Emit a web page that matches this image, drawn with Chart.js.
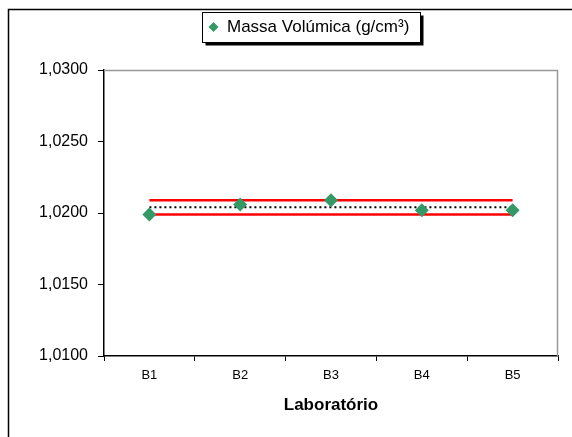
<!DOCTYPE html>
<html>
<head>
<meta charset="utf-8">
<script src="https://cdn.jsdelivr.net/npm/chart.js@4"></script>
<style>
  html, body { margin: 0; padding: 0; background: #fff; }
  #wrap { width: 572px; height: 437px; }
</style>
</head>
<body>
<div id="wrap"><canvas id="c" width="572" height="437"></canvas></div>
<script>
const categories = ["B1", "B2", "B3", "B4", "B5"];
const seriesLabel = "Massa Volúmica (g/cm³)";
const densityValues = [1.0199, 1.0206, 1.0209, 1.0202, 1.0202];
const upperLimit = [1.0209, 1.0209, 1.0209, 1.0209, 1.0209];
const meanValue = [1.0204, 1.0204, 1.0204, 1.0204, 1.0204];
const lowerLimit = [1.0199, 1.0199, 1.0199, 1.0199, 1.0199];
const yTicks = [1.0100, 1.0150, 1.0200, 1.0250, 1.0300];
const xTitle = "Laboratório";

const FONT = '"Liberation Sans", Arial, Helvetica, sans-serif';
const GREEN = '#339966';

const framePlugin = {
  id: 'frame',
  afterDraw(chart) {
    const ctx = chart.ctx;
    const a = chart.chartArea;
    ctx.save();
    // outer frame (left and top)
    ctx.strokeStyle = '#000';
    ctx.lineWidth = 1.5;
    ctx.beginPath();
    ctx.moveTo(8.5, 437);
    ctx.lineTo(8.5, 9.5);
    ctx.lineTo(572, 9.5);
    ctx.stroke();
    // plot area border top and right (gray)
    ctx.strokeStyle = '#999';
    ctx.lineWidth = 1.5;
    ctx.beginPath();
    ctx.moveTo(a.left, a.top + 0.5);
    ctx.lineTo(a.right - 0.5, a.top + 0.5);
    ctx.lineTo(a.right - 0.5, a.bottom);
    ctx.stroke();
    // legend box with shadow
    const bx = 202.5, by = 12.5, bw = 218, bh = 30;
    ctx.fillStyle = '#000';
    ctx.fillRect(bx + 3, by + 3, bw, bh);
    ctx.fillStyle = '#fff';
    ctx.fillRect(bx, by, bw, bh);
    ctx.strokeStyle = '#000';
    ctx.lineWidth = 1;
    ctx.strokeRect(bx, by, bw, bh);
    // marker
    const mx = 213.5, my = 27, r = 5;
    ctx.fillStyle = GREEN;
    ctx.beginPath();
    ctx.moveTo(mx, my - r);
    ctx.lineTo(mx + r, my);
    ctx.lineTo(mx, my + r);
    ctx.lineTo(mx - r, my);
    ctx.closePath();
    ctx.fill();
    ctx.fillStyle = '#000';
    ctx.font = '17px ' + FONT;
    ctx.textBaseline = 'middle';
    ctx.textAlign = 'left';
    ctx.fillText(chart.data.datasets[0].label, 227, 27.5);
    ctx.restore();
  }
};

new Chart(document.getElementById('c'), {
  type: 'line',
  data: {
    labels: categories,
    datasets: [
      {
        label: seriesLabel,
        data: densityValues,
        showLine: false,
        pointStyle: 'rectRot',
        pointRadius: 7,
        pointHoverRadius: 7,
        backgroundColor: GREEN,
        borderColor: GREEN,
        borderWidth: 0,
        order: 0
      },
      {
        label: 'Limite superior',
        data: upperLimit,
        borderColor: '#ff0000',
        borderWidth: 2.5,
        pointRadius: 0,
        fill: false,
        order: 2
      },
      {
        label: 'Média',
        data: meanValue,
        borderColor: '#000',
        borderWidth: 2,
        borderDash: [2, 3],
        pointRadius: 0,
        fill: false,
        order: 1
      },
      {
        label: 'Limite inferior',
        data: lowerLimit,
        borderColor: '#ff0000',
        borderWidth: 2.5,
        pointRadius: 0,
        fill: false,
        order: 2
      }
    ]
  },
  options: {
    responsive: false,
    animation: false,
    devicePixelRatio: 1,
    layout: { padding: { top: 70, right: 14, left: 0, bottom: 0 } },
    plugins: {
      legend: { display: false },
      tooltip: { enabled: false }
    },
    scales: {
      x: {
        type: 'category',
        offset: true,
        grid: {
          offset: true,
          drawOnChartArea: false,
          drawTicks: true,
          tickLength: 5,
          color: '#000'
        },
        border: { color: '#000', width: 1.5 },
        ticks: {
          color: '#000',
          font: { family: FONT, size: 13 },
          padding: 7,
          maxRotation: 0
        },
        title: {
          display: true,
          text: xTitle,
          color: '#000',
          font: { family: FONT, size: 17, weight: 'bold' },
          padding: { top: 0, bottom: 21 }
        },
        afterFit(scale) { scale.height = 81; }
      },
      y: {
        min: yTicks[0],
        max: yTicks[yTicks.length - 1],
        afterBuildTicks(scale) {
          scale.ticks = yTicks.map(v => ({ value: v }));
        },
        grid: {
          drawOnChartArea: false,
          drawTicks: true,
          tickLength: 6,
          color: '#000'
        },
        border: { color: '#000', width: 1.5 },
        ticks: {
          color: '#000',
          font: { family: FONT, size: 16 },
          padding: 10,
          callback: v => Number(v).toFixed(4).replace('.', ',')
        },
        afterFit(scale) { scale.width = 104; }
      }
    }
  },
  plugins: [framePlugin]
});
</script>
</body>
</html>
